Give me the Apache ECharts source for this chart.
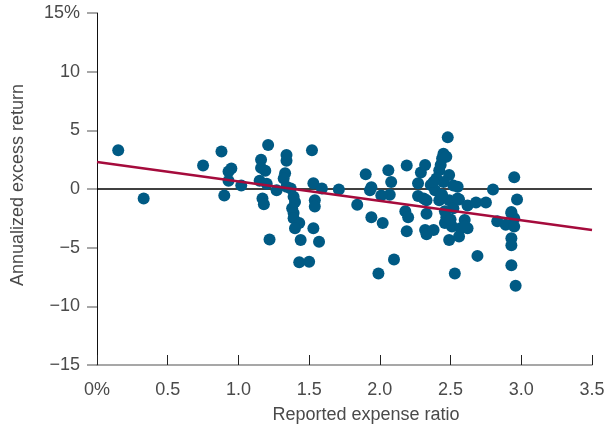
<!DOCTYPE html>
<html>
<head>
<meta charset="utf-8">
<script src="https://cdn.jsdelivr.net/npm/echarts@6/dist/echarts.min.js"></script>
<style>html,body{margin:0;padding:0;background:#fff}#c{width:608px;height:435px}</style>
</head>
<body>
<div id="c"></div>
<script>
// Reported expense ratio (%) vs annualized excess return (%)
var expenseRatio = [0.15,0.33,0.75,0.88,0.9,0.95,0.93,0.93,1.02,
1.21,1.16,1.16,1.19,1.15,1.2,1.17,1.18,1.22,
1.34,1.34,1.33,1.32,1.27,1.34,1.37,1.39,1.4,1.38,1.39,1.39,1.43,1.4,1.44,1.43,1.5,
1.52,1.53,1.59,1.54,1.54,1.53,1.57,
1.71,1.84,1.9,1.93,1.94,1.94,2.02,1.99,2.1,2.06,2.08,2.07,2.01,
2.19,2.18,2.2,2.19,2.29,2.32,2.27,2.27,2.31,2.33,2.32,2.33,2.38,
2.48,2.45,2.44,2.47,2.43,2.42,2.49,2.4,2.52,2.36,2.45,2.39,2.33,2.42,2.49,2.56,2.62,2.52,2.46,2.46,2.51,2.57,2.49,2.56,2.62,2.53,2.55,2.55,2.6,2.6,2.68,2.75,2.8,2.69,
2.38,2.44,2.47,2.5,
2.95,2.97,2.93,2.95,2.83,2.89,2.95,2.93,2.93,2.93,2.96,2.93];
var excessReturn = [3.3,-0.8,2.0,3.2,-0.55,1.75,1.5,0.7,0.3,
3.75,2.5,1.8,1.55,0.7,0.45,-0.8,-1.3,-4.3,
2.9,2.4,1.35,0.9,-0.1,0.2,0.05,-0.65,-1.1,-1.65,-2.05,-2.5,-2.9,-3.35,-4.35,-6.25,-6.2,
3.3,0.5,0.05,-0.95,-1.5,-3.35,-4.5,
-0.05,-1.35,1.25,-0.1,0.15,-2.4,-2.9,-7.2,-6.0,1.6,0.6,-0.5,-0.55,
2.0,-1.9,-2.4,-3.6,1.4,2.05,0.5,-0.6,-0.8,-2.1,-3.5,-3.85,-3.5,
4.4,3.0,2.6,2.75,2.05,1.6,1.2,0.9,0.3,0.35,0.6,-0.1,-0.95,-0.95,-0.95,-0.9,-1.4,-1.65,-1.9,-2.9,-3.2,-3.35,-4.35,-4.05,-3.35,-7.2,0.2,-0.8,-2.65,-3.2,-1.15,-1.15,-0.05,-5.7,
0.6,-0.5,-2.4,-2.6,
1.0,-0.9,-1.95,-2.5,-2.75,-3.05,-3.2,-4.2,-4.8,-6.5,-8.25,-2.07];
var trendX = [0, 3.5];
var trendY = [2.3, -3.5];
var xTicks = [0,0.5,1.0,1.5,2.0,2.5,3.0,3.5];
var yTicks = [-15,-10,-5,0,5,10,15];

var points = expenseRatio.map(function(x,i){return [x, excessReturn[i]];});
var trend = trendX.map(function(x,i){return [x, trendY[i]];});

var chart = echarts.init(document.getElementById('c'));
var txt = {color:'#4a4a4a', fontSize:18, fontFamily:'Liberation Sans, Arial, sans-serif'};
chart.setOption({
  animation:false,
  grid:{left:97, right:16, top:13, bottom:70},
  xAxis:{type:'value', min:0, max:3.5, interval:0.5,
    name:'Reported expense ratio', nameLocation:'middle', nameGap:41,
    nameTextStyle:Object.assign({}, txt, {padding:[0,0,0,43]}),
    axisLine:{show:true, onZero:false, lineStyle:{color:'#8a8a8a', width:1.5}},
    axisTick:{show:true, inside:true, length:10, lineStyle:{color:'#222'}},
    axisLabel:Object.assign({}, txt, {margin:16, formatter:function(v){return v===0?'0%':v.toFixed(1);}}),
    splitLine:{show:false}},
  yAxis:{type:'value', min:-15, max:15, interval:5,
    name:'Annualized excess return', nameLocation:'middle', nameGap:70,
    nameTextStyle:Object.assign({}, txt, {padding:[0,0,0,8]}),
    axisLine:{show:true, onZero:false, lineStyle:{color:'#111', width:1}},
    axisTick:{show:true, inside:false, length:10, lineStyle:{color:'#8a8a8a', width:1.5}},
    axisLabel:Object.assign({}, txt, {margin:17, formatter:function(v){
      var s = v<0 ? '\u2212'+Math.abs(v) : String(v);
      return v===15 ? s+'%' : s;}}),
    splitLine:{show:false}},
  series:[
    {type:'line', data:[[0,0],[3.5,0]], symbol:'none', silent:true,
     lineStyle:{color:'#000', width:1.5}, z:1},
    {type:'scatter', data:points, symbolSize:12,
     itemStyle:{color:'#005a84', opacity:1}, z:2},
    {type:'line', data:trend, symbol:'none',
     lineStyle:{color:'#a50b3c', width:2.5}, z:3}
  ]
});
</script>
</body>
</html>
